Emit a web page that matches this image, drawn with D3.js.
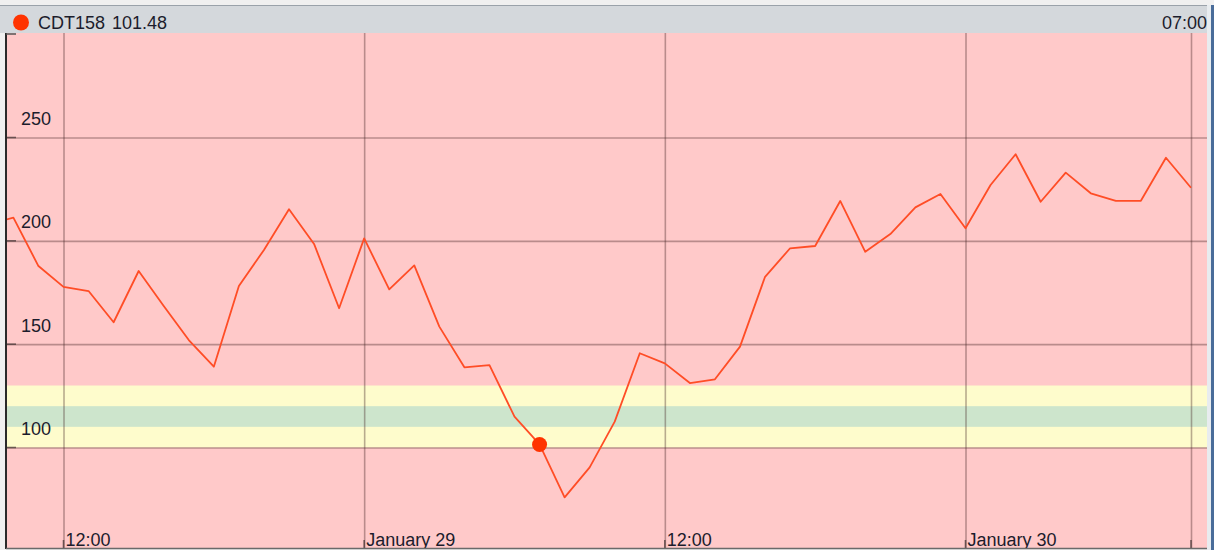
<!DOCTYPE html>
<html>
<head>
<meta charset="utf-8">
<script src="https://cdn.jsdelivr.net/npm/d3@7"></script>
<style>
  html, body { margin: 0; padding: 0; background: #f0f0f0; }
  svg { display: block; }
  text { font-family: "Liberation Sans", Arial, sans-serif; font-size: 18px; fill: #1c1c2c; }
</style>
</head>
<body>
<svg id="chart" width="1214" height="550"></svg>
<script>
// Series: hourly readings starting Jan 28, 09:00
const seriesName = "CDT158";
const seriesStart = new Date(2024, 0, 28, 9, 0);
const seriesValues = [
  208.0, 211.2, 187.8, 177.7, 175.7, 160.6, 185.4, 168.5, 152.0, 139.1,
  178.1, 195.6, 215.3, 198.5, 167.4,
  201.2, 176.5, 188.1, 158.5, 138.8, 139.9, 114.9, 101.48, 75.9, 90.4,
  112.5, 145.6, 140.7, 131.2, 133.0, 148.8, 182.6, 196.4, 197.5, 219.3,
  194.7, 203.3, 216.2, 222.7,
  206.1, 227.0, 241.9, 218.9, 233.0, 223.0, 219.3, 219.4, 240.2, 225.7
];

// Highlighted reading shown in the header
const focusTime = new Date(2024, 0, 29, 7, 0);
const focusValue = 101.48;
const focusLabel = "07:00";

// Target ranges drawn behind the series
const outerBand = [100, 130];
const innerBand = [110, 120];

// Axis ticks
const yTicks = [100, 150, 200, 250];
const xTickTimes = [
  new Date(2024, 0, 28, 12), new Date(2024, 0, 29, 0),
  new Date(2024, 0, 29, 12), new Date(2024, 0, 30, 0)
];
const xTickLabels = ["12:00", "January 29", "12:00", "January 30"];
const nowTime = new Date(2024, 0, 30, 9, 0);

const points = seriesValues.map((v, i) => ({
  t: d3.timeHour.offset(seriesStart, i), v
}));

const W = 1214, H = 550;
const plot = { left: 6, right: 1207, top: 33, bottom: 548 };

const svg = d3.select("#chart");

const x = d3.scaleTime()
  .domain([xTickTimes[0], xTickTimes[3]])
  .range([63.5, 965.5]);
const y = d3.scaleLinear()
  .domain([100, 250])
  .range([447.5, 137.5]);

// Window chrome: light top strip, header bar
svg.append("rect").attr("x", 0).attr("y", 0).attr("width", W).attr("height", H).attr("fill", "#f0f0f0");
svg.append("rect").attr("x", 0).attr("y", 5).attr("width", W).attr("height", plot.top - 5).attr("fill", "#d4d8dc");
svg.append("line").attr("x1", 0).attr("x2", W).attr("y1", 5.5).attr("y2", 5.5)
  .attr("stroke", "#9aa2aa").attr("stroke-width", 1);

// Plot background
svg.append("defs").append("clipPath").attr("id", "plotClip")
  .append("rect")
  .attr("x", plot.left).attr("y", plot.top)
  .attr("width", plot.right - plot.left).attr("height", plot.bottom - plot.top);

const g = svg.append("g").attr("clip-path", "url(#plotClip)");
g.append("rect")
  .attr("x", plot.left).attr("y", plot.top)
  .attr("width", plot.right - plot.left).attr("height", plot.bottom - plot.top)
  .attr("fill", "#ffc9c9");

// Target bands
g.append("rect")
  .attr("x", plot.left).attr("width", plot.right - plot.left)
  .attr("y", y(outerBand[1])).attr("height", y(outerBand[0]) - y(outerBand[1]))
  .attr("fill", "#fefccc");
g.append("rect")
  .attr("x", plot.left).attr("width", plot.right - plot.left)
  .attr("y", y(innerBand[1])).attr("height", y(innerBand[0]) - y(innerBand[1]))
  .attr("fill", "#cde5cc");

// Horizontal grid and left tick stubs
const yAxis = d3.axisRight(y).tickValues(yTicks).tickSize(plot.right - plot.left).tickFormat("");
const yg = g.append("g").attr("transform", `translate(${plot.left},0)`).call(yAxis);
yg.select(".domain").remove();
yg.selectAll(".tick line").attr("stroke", "rgba(70,40,40,0.38)").attr("stroke-width", 1.6);
g.selectAll(".ystub").data(yTicks).join("line")
  .attr("x1", plot.left).attr("x2", plot.left + 10)
  .attr("y1", d => y(d)).attr("y2", d => y(d))
  .attr("stroke", "rgba(40,30,30,0.6)").attr("stroke-width", 1.6);

// Vertical grid
const xAxis = d3.axisBottom(x).tickValues(xTickTimes.concat([nowTime]))
  .tickSize(plot.bottom - plot.top).tickFormat("");
const xg = g.append("g").attr("transform", `translate(0,${plot.top})`).call(xAxis);
xg.select(".domain").remove();
xg.selectAll(".tick line").attr("stroke", "rgba(70,40,40,0.38)").attr("stroke-width", 1.6);
g.selectAll(".xstub").data(xTickTimes.concat([nowTime])).join("line")
  .attr("x1", d => x(d)).attr("x2", d => x(d))
  .attr("y1", plot.bottom - 8).attr("y2", plot.bottom)
  .attr("stroke", "rgba(40,30,30,0.6)").attr("stroke-width", 1.6);

// Series line
const line = d3.line().x(d => x(d.t)).y(d => y(d.v));
g.append("path").datum(points)
  .attr("fill", "none")
  .attr("stroke", "#ff4d26")
  .attr("stroke-width", 1.8)
  .attr("stroke-linejoin", "round")
  .attr("d", line);

// Focus marker
g.append("circle")
  .attr("cx", x(focusTime)).attr("cy", y(focusValue)).attr("r", 7.5)
  .attr("fill", "#ff3300");

// Y labels, above their grid lines
g.selectAll(".ylab").data(yTicks).join("text")
  .attr("x", 21).attr("y", d => y(d) - 12.5)
  .text(d => d);

// X labels, right of their grid lines
g.selectAll(".xlab").data(xTickTimes).join("text")
  .attr("x", d => x(d) + 2).attr("y", 546)
  .text((d, i) => xTickLabels[i]);

// Frame
svg.append("line").attr("x1", plot.left).attr("x2", plot.left)
  .attr("y1", plot.top).attr("y2", plot.bottom + 1)
  .attr("stroke", "#2a2a2a").attr("stroke-width", 2);
svg.append("line").attr("x1", plot.left).attr("x2", plot.left + 10)
  .attr("y1", plot.top + 1).attr("y2", plot.top + 1)
  .attr("stroke", "#555").attr("stroke-width", 1.5);
svg.append("line").attr("x1", plot.left).attr("x2", plot.right)
  .attr("y1", plot.bottom + 0.5).attr("y2", plot.bottom + 0.5)
  .attr("stroke", "#6a6a6a").attr("stroke-width", 1.5);
svg.append("rect").attr("x", plot.right).attr("y", 5).attr("width", 4).attr("height", H - 5).attr("fill", "#e8ecef");
svg.append("rect").attr("x", 1211).attr("y", 5).attr("width", 3).attr("height", H - 5).attr("fill", "#4a6d9a");

// Header
svg.append("circle").attr("cx", 21).attr("cy", 22.5).attr("r", 8).attr("fill", "#ff3300");
svg.append("text").attr("x", 38).attr("y", 29).text(seriesName);
svg.append("text").attr("x", 112).attr("y", 29).text(focusValue.toFixed(2));
svg.append("text").attr("x", 1207).attr("y", 29).attr("text-anchor", "end").text(focusLabel);
</script>
</body>
</html>
